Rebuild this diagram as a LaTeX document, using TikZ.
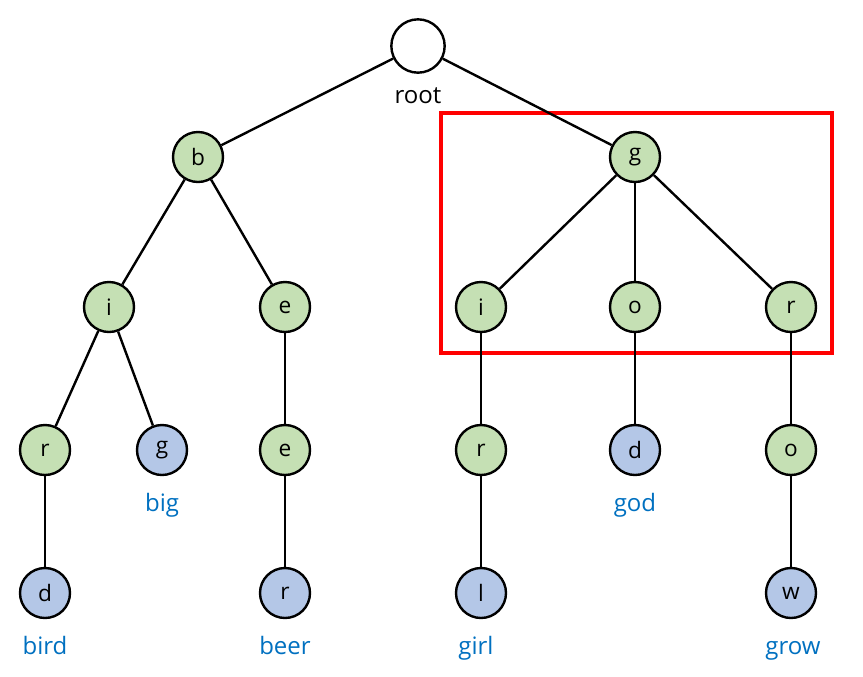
\documentclass[tikz,border=0pt]{standalone}
\usepackage{fontspec}
\setmainfont{Open Sans}
\usepackage{xcolor}
\usepackage{tikz}
\definecolor{prefixgreen}{HTML}{C5E0B4}
\definecolor{wordblue}{HTML}{B4C7E7}
\definecolor{labelblue}{HTML}{0070C0}

\begin{document}
\begin{tikzpicture}[x=0.75pt,y=-0.75pt,
    trienode/.style={circle,draw,line width=1.8pt,minimum size=37.5pt,inner sep=0pt,font=\fontsize{17}{19}\selectfont},
    inner/.style={trienode,fill=prefixgreen},
    wordend/.style={trienode,fill=wordblue},
    word/.style={text=labelblue,anchor=base,font=\fontsize{18}{20}\selectfont},
    link/.style={line width=1.8pt}]
    \useasboundingbox (0,0) rectangle (863,676);
    % highlighted subtree
    \draw[red,line width=2.3pt] (441,113) rectangle (832,353);

    \node [trienode,minimum size=40pt] (root) at (418,46) {};
    \node [anchor=base,font=\fontsize{18}{20}\selectfont] (rootlabel) at (418,103) {root};

    \node [inner]   (b)   at (198,157) {b};
    \node [inner]   (g)   at (635,157) {g};

    \node [inner]   (bi)  at (109,307) {i};
    \node [inner]   (be)  at (285,307) {e};
    \node [inner]   (gi)  at (481,307) {i};
    \node [inner]   (go)  at (635,307) {o};
    \node [inner]   (gr)  at (791,307) {r};

    \node [inner]   (bir) at (45,450)  {r};
    \node [wordend] (big) at (162,450) {g};
    \node [inner]   (bee) at (285,450) {e};
    \node [inner]   (gir) at (481,450) {r};
    \node [wordend] (god) at (635,450) {d};
    \node [inner]   (gro) at (791,450) {o};

    \node [wordend] (bird) at (45,593)  {d};
    \node [wordend] (beer) at (285,593) {r};
    \node [wordend] (girl) at (481,593) {l};
    \node [wordend] (grow) at (791,593) {w};

    \node [word] (wbig)  at (162,511) {big};
    \node [word] (wgod)  at (635,511) {god};
    \node [word] (wbird) at (45,654)  {bird};
    \node [word] (wbeer) at (285,654) {beer};
    \node [word] (wgirl) at (476,654) {girl};
    \node [word] (wgrow) at (793,654) {grow};

    \draw [link] (root) -- (b);
    \draw [link] (root) -- (g);
    \draw [link] (b) -- (bi);
    \draw [link] (b) -- (be);
    \draw [link] (g) -- (gi);
    \draw [link] (g) -- (go);
    \draw [link] (g) -- (gr);
    \draw [link] (bi) -- (bir);
    \draw [link] (bi) -- (big);
    \draw [link] (be) -- (bee);
    \draw [link] (gi) -- (gir);
    \draw [link] (go) -- (god);
    \draw [link] (gr) -- (gro);
    \draw [link] (bir) -- (bird);
    \draw [link] (bee) -- (beer);
    \draw [link] (gir) -- (girl);
    \draw [link] (gro) -- (grow);
\end{tikzpicture}
\end{document}
